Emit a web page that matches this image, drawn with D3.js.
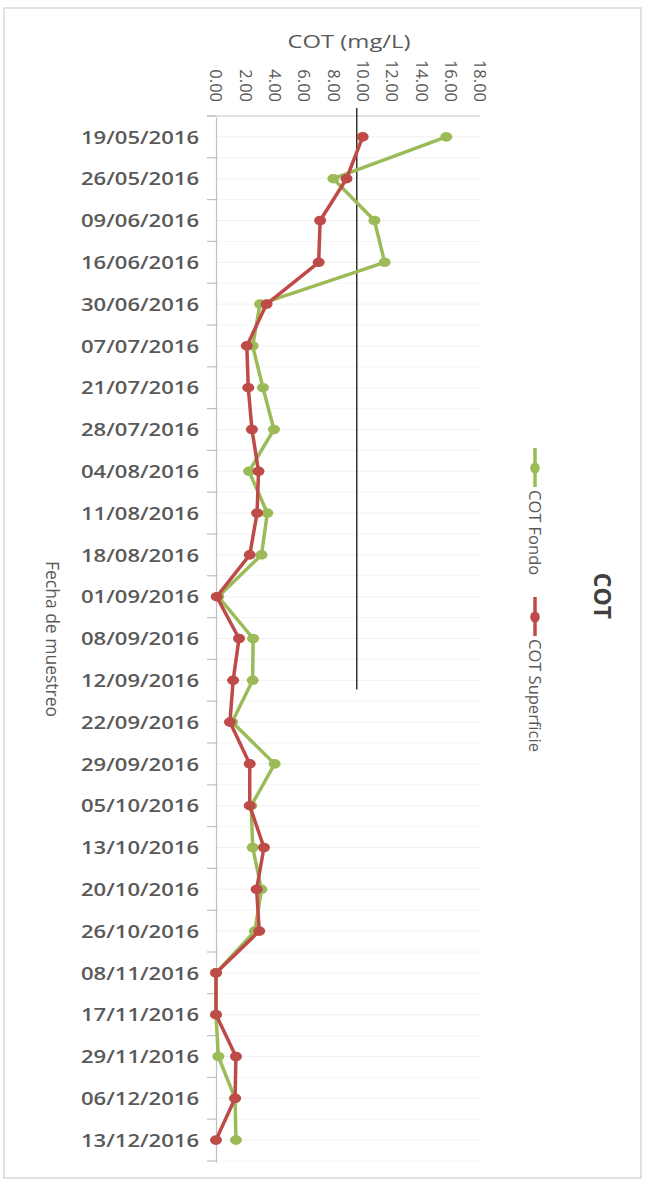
<!DOCTYPE html>
<html>
<head>
<meta charset="utf-8">
<script src="https://cdn.jsdelivr.net/npm/d3@7"></script>
<style>
  html, body { margin: 0; padding: 0; background: #ffffff; }
  svg { display: block; }
</style>
</head>
<body>
<svg id="chart" width="647" height="1183"></svg>
<script>
// Sampling dates (category axis, top to bottom)
const dates = [
  "19/05/2016", "26/05/2016", "09/06/2016", "16/06/2016", "30/06/2016",
  "07/07/2016", "21/07/2016", "28/07/2016", "04/08/2016", "11/08/2016",
  "18/08/2016", "01/09/2016", "08/09/2016", "12/09/2016", "22/09/2016",
  "29/09/2016", "05/10/2016", "13/10/2016", "20/10/2016", "26/10/2016",
  "08/11/2016", "17/11/2016", "29/11/2016", "06/12/2016", "13/12/2016"
];

// COT at the bottom (mg/L)
const cotFondo = [
  15.7, 8.0, 10.8, 11.5, 3.0,
  2.5, 3.2, 3.95, 2.25, 3.5,
  3.1, 0.15, 2.53, 2.5, 1.1,
  4.0, 2.4, 2.5, 3.1, 2.65,
  0.0, 0.0, 0.16, 1.3, 1.36
];

// COT at the surface (mg/L)
const cotSuperficie = [
  10.0, 8.9, 7.1, 7.0, 3.45,
  2.1, 2.2, 2.45, 2.9, 2.8,
  2.3, 0.05, 1.57, 1.17, 0.95,
  2.3, 2.3, 3.27, 2.77, 2.95,
  0.0, 0.0, 1.36, 1.3, 0.0
];

// Value axis ticks
const valueTicks = [0, 2, 4, 6, 8, 10, 12, 14, 16, 18];

// Vertical reference line on the value axis
const referenceValue = 9.6;
const referenceEndDate = "12/09/2016";

const series = [
  { name: "COT Fondo", values: cotFondo, color: "#9bbb59" },
  { name: "COT Superficie", values: cotSuperficie, color: "#be4b48" }
];

const svg = d3.select("#chart");
const textColor = "#595959";

// Chart frame
svg.append("rect")
  .attr("x", 4).attr("y", 8)
  .attr("width", 637).attr("height", 1170)
  .attr("fill", "#ffffff")
  .attr("stroke", "#d9d9d9")
  .attr("stroke-width", 1.5);

const plot = { left: 216, right: 480, top: 116, bottom: 1161 };

const x = d3.scaleLinear().domain([0, 18]).range([plot.left, plot.right]);
const y = d3.scaleBand().domain(dates).range([plot.top, plot.bottom]);
const yc = d => y(d) + y.bandwidth() / 2;

// Faint category gridlines (centers and boundaries)
const gridG = svg.append("g");
dates.forEach(d => {
  gridG.append("line")
    .attr("x1", plot.left).attr("x2", plot.right)
    .attr("y1", yc(d)).attr("y2", yc(d))
    .attr("stroke", "#f0f0f0").attr("stroke-width", 1);
  gridG.append("line")
    .attr("x1", plot.left).attr("x2", plot.right)
    .attr("y1", y(d) + y.bandwidth()).attr("y2", y(d) + y.bandwidth())
    .attr("stroke", "#f4f4f4").attr("stroke-width", 1);
});

// Top edge of the plot area
svg.append("line")
  .attr("x1", plot.left - 9).attr("x2", plot.right)
  .attr("y1", plot.top).attr("y2", plot.top)
  .attr("stroke", "#d9d9d9").attr("stroke-width", 1.5);

// Category axis (left)
const yAxis = d3.axisLeft(y).tickSize(0).tickPadding(17);
const yAxisG = svg.append("g")
  .attr("transform", `translate(${plot.left},1)`)
  .call(yAxis);
yAxisG.select(".domain").attr("stroke", "#bfbfbf").attr("stroke-width", 1.2);
yAxisG.selectAll("text")
  .attr("fill", textColor)
  .attr("font-family", "Open Sans, sans-serif")
  .attr("font-weight", 600)
  .attr("font-size", "18px")
  .attr("textLength", 118)
  .attr("lengthAdjust", "spacingAndGlyphs");

// Boundary tick marks between categories
const boundaries = dates.map(d => y(d)).concat([plot.bottom]);
svg.append("g").selectAll("line")
  .data(boundaries)
  .join("line")
  .attr("x1", plot.left - 9).attr("x2", plot.left)
  .attr("y1", d => d).attr("y2", d => d)
  .attr("stroke", "#bfbfbf").attr("stroke-width", 1.2);

// Value axis tick labels (rotated, above the plot)
svg.append("g").selectAll("text")
  .data(valueTicks)
  .join("text")
  .attr("transform", v => `translate(${x(v)},102) rotate(90)`)
  .attr("text-anchor", "end")
  .attr("dy", "0.35em")
  .attr("fill", textColor)
  .attr("font-family", "Open Sans, sans-serif")
  .attr("font-size", "16.5px")
  .text(v => v.toFixed(2));

// Value axis title
svg.append("text")
  .attr("x", 349).attr("y", 48)
  .attr("text-anchor", "middle")
  .attr("fill", textColor)
  .attr("font-family", "Open Sans, sans-serif")
  .attr("font-size", "18px")
  .attr("textLength", 123)
  .attr("lengthAdjust", "spacingAndGlyphs")
  .text("COT (mg/L)");

// Category axis title
svg.append("text")
  .attr("transform", "translate(52,639) rotate(90)")
  .attr("text-anchor", "middle")
  .attr("dy", "0.35em")
  .attr("fill", textColor)
  .attr("font-family", "Open Sans, sans-serif")
  .attr("font-size", "17.5px")
  .text("Fecha de muestreo");

// Reference line
svg.append("line")
  .attr("x1", x(referenceValue)).attr("x2", x(referenceValue))
  .attr("y1", plot.top - 8)
  .attr("y2", yc(referenceEndDate) + y.bandwidth() * 0.22)
  .attr("stroke", "#000000").attr("stroke-width", 1.2);

// Series lines and markers
const line = d3.line()
  .x(d => x(d.v))
  .y(d => yc(d.date));

series.forEach(s => {
  const pts = s.values.map((v, i) => ({ v, date: dates[i] }));
  const g = svg.append("g");
  g.append("path")
    .datum(pts)
    .attr("d", line)
    .attr("fill", "none")
    .attr("stroke", s.color)
    .attr("stroke-width", 3.5)
    .attr("stroke-linejoin", "round");
  g.selectAll("ellipse")
    .data(pts)
    .join("ellipse")
    .attr("cx", d => x(d.v))
    .attr("cy", d => yc(d.date))
    .attr("rx", 6)
    .attr("ry", 4.8)
    .attr("fill", s.color);
});

// Legend (rotated)
const legendX = 535;
const legendItems = [
  { s: series[0], y0: 448 },
  { s: series[1], y0: 597 }
];
legendItems.forEach(({ s, y0 }) => {
  svg.append("line")
    .attr("x1", legendX).attr("x2", legendX)
    .attr("y1", y0).attr("y2", y0 + 39)
    .attr("stroke", s.color).attr("stroke-width", 3.5);
  svg.append("ellipse")
    .attr("cx", legendX).attr("cy", y0 + 20)
    .attr("rx", 4.8).attr("ry", 5.5)
    .attr("fill", s.color);
  svg.append("text")
    .attr("transform", `translate(${legendX},${y0 + 42}) rotate(90)`)
    .attr("text-anchor", "start")
    .attr("dy", "0.35em")
    .attr("fill", textColor)
    .attr("font-family", "Open Sans, sans-serif")
    .attr("font-size", "16.5px")
    .text(s.name);
});

// Chart title (rotated)
svg.append("text")
  .attr("transform", "translate(602,596) rotate(90)")
  .attr("text-anchor", "middle")
  .attr("dy", "0.36em")
  .attr("fill", "#404040")
  .attr("font-family", "Open Sans, sans-serif")
  .attr("font-weight", "bold")
  .attr("font-size", "23px")
  .text("COT");
</script>
</body>
</html>
